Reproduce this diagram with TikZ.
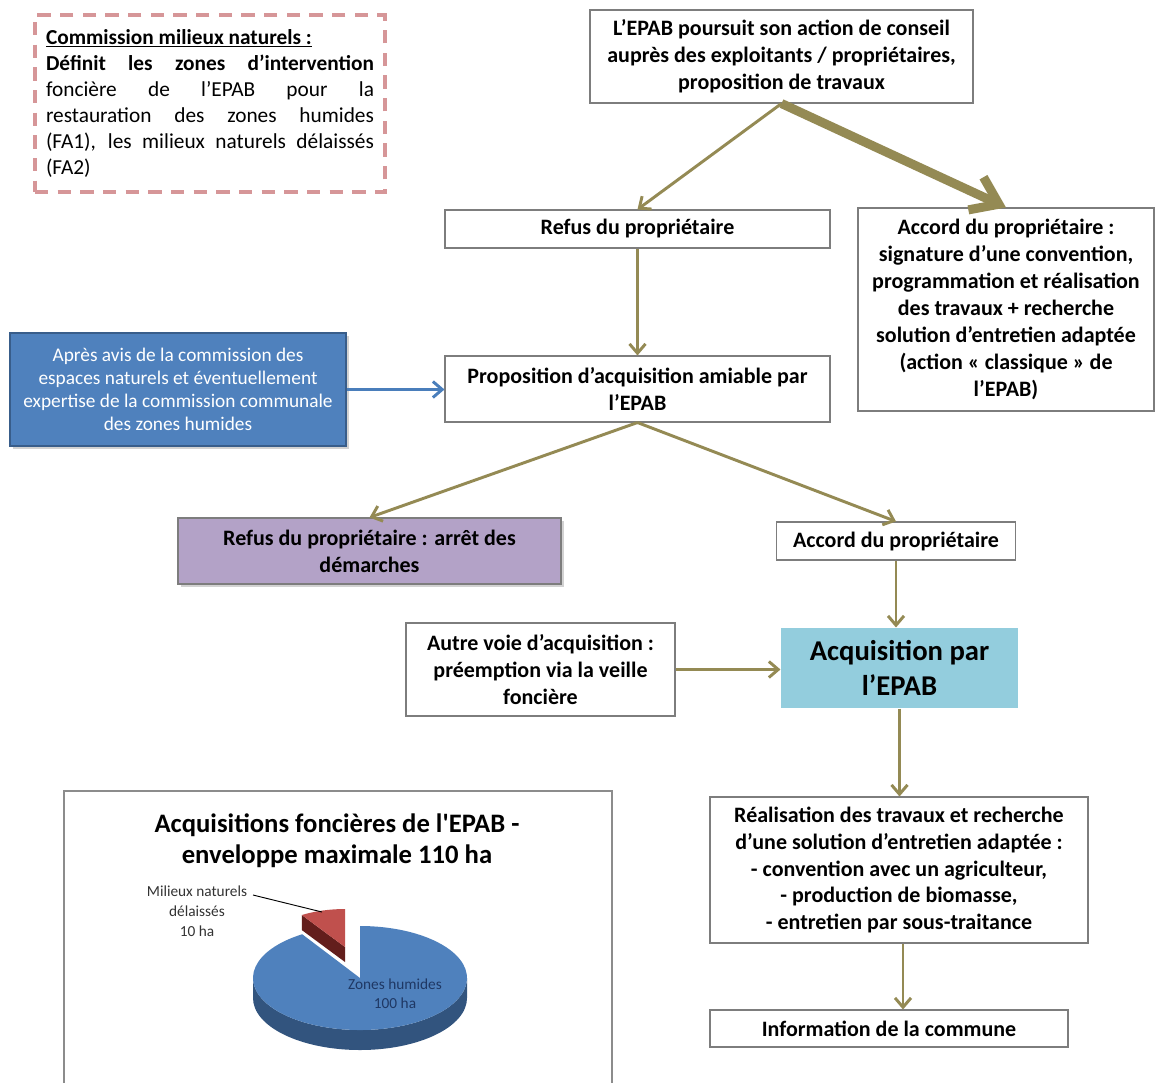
\documentclass[tikz,border=0pt]{standalone}
\usepackage{fontspec}
\setmainfont{Carlito}
\usetikzlibrary{arrows.meta,shadows,calc}
\definecolor{olive}{RGB}{148,138,84}
\definecolor{bluebox}{RGB}{79,129,189}
\definecolor{blueborder}{RGB}{56,93,138}
\definecolor{bluearrow}{RGB}{74,126,187}
\definecolor{purplebox}{RGB}{179,162,199}
\definecolor{cyanbox}{RGB}{147,205,221}
\definecolor{pinkdash}{RGB}{214,150,152}
\definecolor{boxborder}{RGB}{125,125,125}
\definecolor{pieblue}{RGB}{79,129,189}
\definecolor{piebluedark}{RGB}{50,84,126}
\definecolor{piered}{RGB}{192,80,77}
\definecolor{pieredddark}{RGB}{99,30,28}
\definecolor{navytext}{RGB}{31,56,100}
\def\px{0.75pt}
\tikzset{
  box/.style={draw=boxborder, line width=0.8pt, fill=white, inner sep=0pt, align=center,
    font={\bfseries\fontsize{16.5}{20.2}\selectfont}},
  arr/.style={draw=olive, line width=2.2pt, -{Straight Barb[length=7pt,width=12pt]}},
  bigarr/.style={draw=olive, line width=6.8pt, -{Straight Barb[length=19pt,width=27pt]}},
  bluearr/.style={draw=bluearrow, line width=2.2pt, -{Straight Barb[length=7pt,width=12pt]}},
}
\begin{document}
\begin{tikzpicture}[x=0.75pt,y=-0.75pt]
\useasboundingbox (0,0) rectangle (1155,1082);
\fill[white] (0,0) rectangle (1155,1082);

% dashed commission box
\node[draw=pinkdash, line width=2.3pt, dash pattern=on 10pt off 7pt, inner sep=0pt,
  minimum width=350*\px, minimum height=177*\px, text width=328*\px, align=justify,
  font={\fontsize{16}{19.5}\selectfont}] (comm) at (210,103.5)
  {\textbf{\underline{Commission milieux naturels :}}\\
   \textbf{Définit les zones d’intervention}\linebreak
   foncière de l’EPAB pour la\linebreak
   restauration des zones humides\linebreak
   (FA1), les milieux naturels délaissés\linebreak
   (FA2)};

% flow boxes
\node[box, minimum width=383*\px, minimum height=93*\px] (top) at (781.5,56.5)
  {L’EPAB poursuit son action de conseil\\auprès des exploitants / propriétaires,\\proposition de travaux};
\node[box, minimum width=385*\px, minimum height=38*\px] (refus) at (637.5,229)
  {Refus du propriétaire};
\node[box, minimum width=296*\px, minimum height=203*\px] (accord1) at (1006,309.5)
  {Accord du propriétaire :\\signature d’une convention,\\programmation et réalisation\\des travaux + recherche\\solution d’entretien adaptée\\(action « classique » de\\l’EPAB)};
\node[draw=blueborder, line width=1.5pt, fill=bluebox, text=white, inner sep=0pt, align=center,
  minimum width=336*\px, minimum height=113*\px,
  drop shadow={opacity=0.35, shadow xshift=2pt, shadow yshift=-2pt},
  font={\fontsize{14.5}{17.3}\selectfont}] (avis) at (178,389.5)
  {Après avis de la commission des\\espaces naturels et éventuellement\\expertise de la commission communale\\des zones humides};
\node[box, minimum width=385*\px, minimum height=66*\px] (prop) at (637.5,389)
  {Proposition d’acquisition amiable par\\l’EPAB};
\node[box, fill=purplebox, minimum width=383*\px, minimum height=66*\px,
  drop shadow={opacity=0.35, shadow xshift=2pt, shadow yshift=-2pt}] (arret) at (369.5,551)
  {Refus du propriétaire : arrêt des\\démarches};
\node[box, minimum width=239*\px, minimum height=38*\px] (accord2) at (896,541)
  {Accord du propriétaire};
\node[box, minimum width=269*\px, minimum height=93*\px] (autre) at (540.5,669.5)
  {Autre voie d’acquisition :\\préemption via la veille\\foncière};
\node[box, draw=none, fill=cyanbox, minimum width=237*\px, minimum height=80*\px,
  font={\bfseries\fontsize{21.5}{26}\selectfont}] (acq) at (899.5,668)
  {Acquisition par\\l’EPAB};
\node[box, minimum width=378*\px, minimum height=146*\px] (real) at (899,870)
  {Réalisation des travaux et recherche\\d’une solution d’entretien adaptée :\\- convention avec un agriculteur,\\- production de biomasse,\\- entretien par sous-traitance};
\node[box, minimum width=358*\px, minimum height=37*\px] (info) at (889,1028.5)
  {Information de la commune};

% connectors
\draw[arr] (top.south) -- (refus.north);
\draw[bigarr] (top.south) -- (accord1.north);
\draw[arr] (refus.south) -- (prop.north);
\draw[bluearr] (avis.east) -- (avis.east -| prop.west);
\draw[arr] (prop.south) -- (arret.north);
\draw[arr] (prop.south) -- (accord2.north);
\draw[arr] (accord2.south) -- (accord2.south |- acq.north);
\draw[arr] (autre.east) -- (autre.east -| acq.west);
\draw[arr] (acq.south) -- (acq.south |- real.north);
\draw[arr] ([xshift=3pt]real.south) -- ([xshift=3pt]real.south |- info.north);

% chart frame
\draw[draw=black!45, line width=1pt] (64,1090) -- (64,791) -- (612,791) -- (612,1090);
\node[font={\bfseries\fontsize{20}{23.2}\selectfont}, align=center, inner sep=0pt] (ctitle) at (337,841)
  {Acquisitions foncières de l\textquotesingle EPAB -\\enveloppe maximale 110 ha};

% pie: blue slice
\begin{scope}[shift={(360,978)}, yscale=-1]
  \fill[piebluedark] (180:107 and 52) arc[start angle=180, end angle=360, x radius=107, y radius=52]
     -- ++(0,-20) arc[start angle=360, end angle=180, x radius=107, y radius=52] -- cycle;
  \fill[pieblue] (0,0) -- (122.7:107 and 52) arc[start angle=122.7, end angle=450, x radius=107, y radius=52] -- cycle;
\end{scope}
% pie: red slice (exploded)
\begin{scope}[shift={(345,947)}, yscale=-1]
  \fill[pieredddark] (0,0) -- (122.7:80 and 38) -- ++(0,-15) -- (0,-15) -- cycle;
  \fill[piered] (0,0) -- (122.7:80 and 38) arc[start angle=122.7, end angle=90, x radius=80, y radius=38] -- cycle;
\end{scope}

\node[font={\fontsize{11.5}{15}\selectfont}, text=black!80, align=center, inner sep=0pt] (mlab) at (197,911)
  {Milieux naturels\\délaissés\\10 ha};
\coordinate (lead1) at (253,895);
\coordinate (lead2) at (322,912);
\draw[black, line width=0.7pt] (lead1) -- (lead2);
\node[font={\fontsize{11.5}{14}\selectfont}, text=navytext, align=center, inner sep=0pt] (zlab) at (395,994)
  {Zones humides\\100 ha};
\end{tikzpicture}
\end{document}
